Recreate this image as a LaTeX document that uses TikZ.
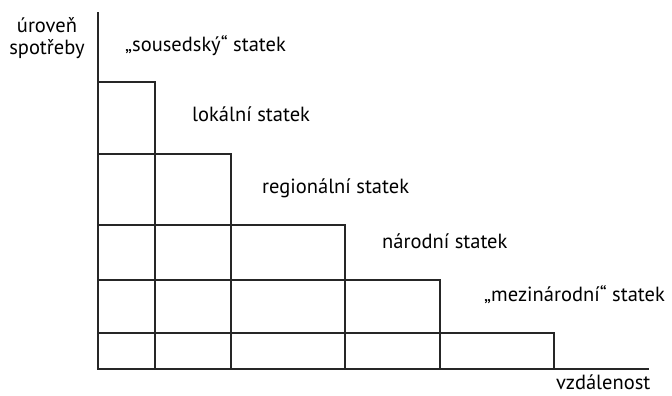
\documentclass[tikz,border=0pt]{standalone}
\usepackage{fontspec}
\setmainfont{PT Sans}
\begin{document}
\begin{tikzpicture}[x=1bp,y=-1bp,
  ln/.style={line width=1.3bp,draw=black!85},
  lbl/.style={inner sep=0pt,anchor=mid west,font=\fontsize{20.5bp}{22bp}\selectfont}]
\useasboundingbox (0,0) rectangle (672,395);
% axes
\coordinate (o) at (98,369);
\coordinate (ytop) at (98,12);
\coordinate (xend) at (649,369);
\draw[ln] (ytop) -- (o) -- (xend);
% columns
\draw[ln] (98,82) -- (155,82) -- (155,369);
\draw[ln] (98,154) -- (231,154) -- (231,369);
\draw[ln] (98,225) -- (345,225) -- (345,369);
\draw[ln] (98,280) -- (440,280) -- (440,369);
\draw[ln] (98,333) -- (554,333) -- (554,369);
% labels
\node[lbl,anchor=center,align=center] (ylab) at (47,38) {úroveň\\spotřeby};
\node[lbl] (l1) at (125,49) {„sousedský“ statek};
\node[lbl] (l2) at (192,119) {lokální statek};
\node[lbl] (l3) at (262,191) {regionální statek};
\node[lbl] (l4) at (382,246) {národní statek};
\node[lbl] (l5) at (484,299) {„mezinárodní“ statek};
\node[lbl] (xlab) at (556,387) {vzdálenost};
\end{tikzpicture}
\end{document}
